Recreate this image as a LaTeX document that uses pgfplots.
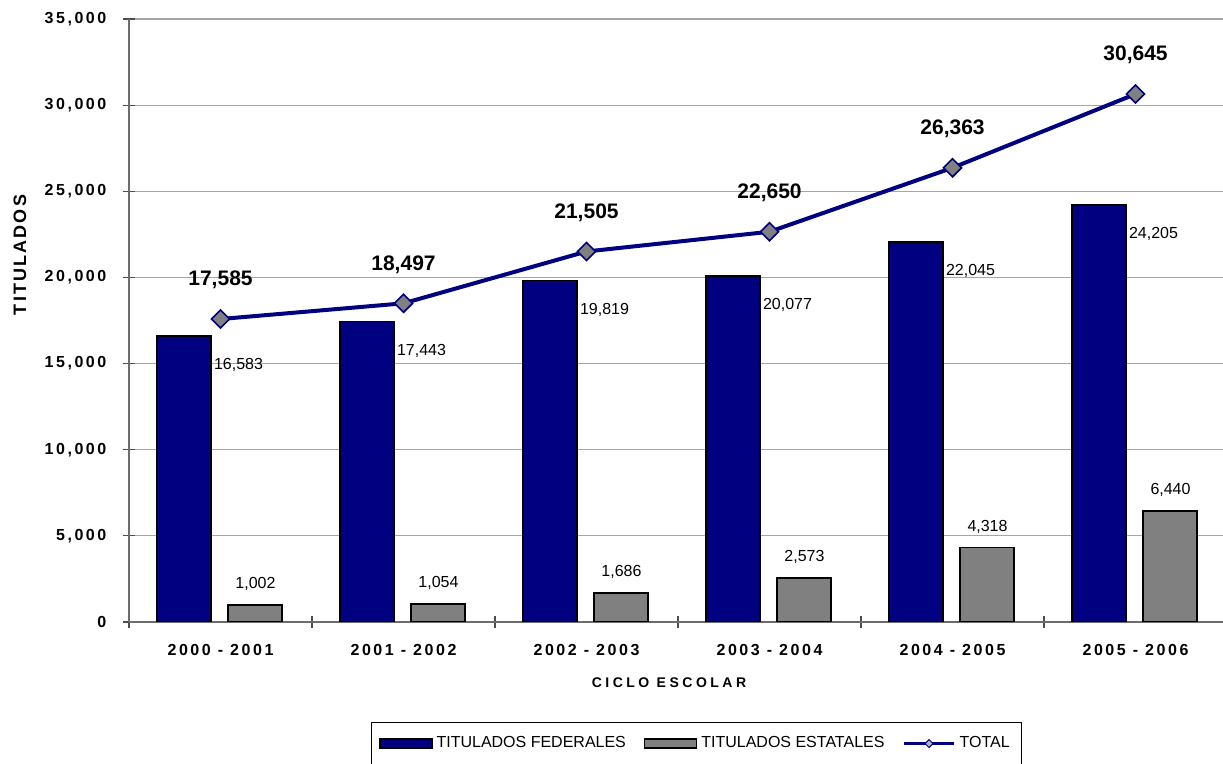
\documentclass[border=0pt]{standalone}
\usepackage{fontspec}
\setmainfont{Liberation Sans}
\newfontfamily\spaced[LetterSpace=16]{Liberation Sans}
\newfontfamily\wide[LetterSpace=25]{Liberation Sans}
\newfontfamily\ytitle[LetterSpace=12]{Liberation Sans}
\usepackage{pgfplots}
\usepackage{pgfplotstable}
\pgfplotsset{compat=1.18}

\definecolor{fed}{RGB}{0,0,128}
\definecolor{est}{RGB}{128,128,128}

% titulados por ciclo escolar
\pgfplotstableread{
x fed est tot
0 16583 1002 17585
1 17443 1054 18497
2 19819 1686 21505
3 20077 2573 22650
4 22045 4318 26363
5 24205 6440 30645
}\datos

\begin{document}
\begin{tikzpicture}
\path[use as bounding box] (-64.5pt,-71pt) rectangle (547pt,311pt);
\begin{axis}[
    scale only axis,
    width=547pt, height=301.5pt,
    xmin=-0.5, xmax=5.478,
    ymin=0, ymax=35000,
    axis x line*=bottom, axis y line*=left,
    axis line style={-, draw=gray!85!black, line width=0.8pt},
    xtick={0,...,5},
    xticklabels={2000 - 2001, 2001 - 2002, 2002 - 2003, 2003 - 2004, 2004 - 2005, 2005 - 2006},
    minor xtick={-0.5,0.5,...,4.5},
    major x tick style={draw=none},
    ytick={0,5000,...,35000},
    ymajorgrids,
    grid style={draw=gray!70, line width=0.6pt},
    tick align=center,
    major tick length=6pt, minor tick length=6pt,
    tick style={draw=gray!60!black, line width=0.6pt},
    scaled y ticks=false,
    /pgf/number format/.cd, fixed, precision=0, 1000 sep={,}, assume math mode=true,
    /pgfplots/.cd,
    ticklabel style={font=\spaced\bfseries\fontsize{8}{9.6}\selectfont},
    yticklabel style={xshift=-4.8pt},
    xticklabel style={yshift=-4.8pt},
    xlabel={CICLO ESCOLAR},
    xlabel style={at={(axis description cs:0.4936,0)}, anchor=center, yshift=-30.5pt,
      font=\wide\bfseries\fontsize{7}{8.4}\selectfont},
    ylabel={TITULADOS},
    ylabel style={at={(axis description cs:-0.0996,0.6086)}, anchor=center,
      font=\ytitle\bfseries\fontsize{9}{10.8}\selectfont},
    legend style={at={(axis description cs:0.5187,-0.1658)}, anchor=north,
      legend columns=3, draw=black, line width=0.5pt,
      font=\fontsize{8}{9.6}\selectfont, inner ysep=5pt, inner xsep=4pt,
      /tikz/every even column/.append style={column sep=7pt}},
  ]
  \addplot[ybar, bar width=0.295, bar shift=-0.2, fill=fed, draw=black, line width=0.9pt,
    nodes near coords,
    every node near coord/.append style={anchor=west, xshift=-7pt, yshift=-14.5pt,
      font=\fontsize{8}{9.6}\selectfont, text=black},
    legend image code/.code={\draw[fill=fed, draw=black, line width=0.7pt] (0pt,-2.2pt) rectangle (26pt,2.2pt);}]
    table[x=x, y=fed] {\datos};
  \addlegendentry{TITULADOS FEDERALES}

  \addplot[ybar, bar width=0.295, bar shift=0.19, fill=est, draw=black, line width=0.9pt,
    nodes near coords,
    every node near coord/.append style={anchor=center, xshift=17.5pt, yshift=10.5pt,
      font=\fontsize{8}{9.6}\selectfont, text=black},
    legend image code/.code={\draw[fill=est, draw=black, line width=0.7pt] (0pt,-2.2pt) rectangle (26pt,2.2pt);}]
    table[x=x, y=est] {\datos};
  \addlegendentry{TITULADOS ESTATALES}

  \addplot[color=fed, line width=2pt, mark=square*, mark size=3.2pt,
    mark options={rotate=45, fill=est, draw=fed, line width=0.8pt},
    nodes near coords,
    every node near coord/.append style={anchor=center, yshift=19.5pt,
      font=\bfseries\fontsize{10.5}{12.6}\selectfont, text=black},
    legend image code/.code={
      \draw[fed, line width=1.6pt] (0pt,0pt) -- (25pt,0pt);
      \draw[fed, fill=est!60, line width=0.5pt] (12.5pt,-2pt) -- (14.5pt,0pt) -- (12.5pt,2pt) -- (10.5pt,0pt) -- cycle;}]
    table[x=x, y=tot] {\datos};
  \addlegendentry{TOTAL}
\end{axis}
\end{tikzpicture}
\end{document}
